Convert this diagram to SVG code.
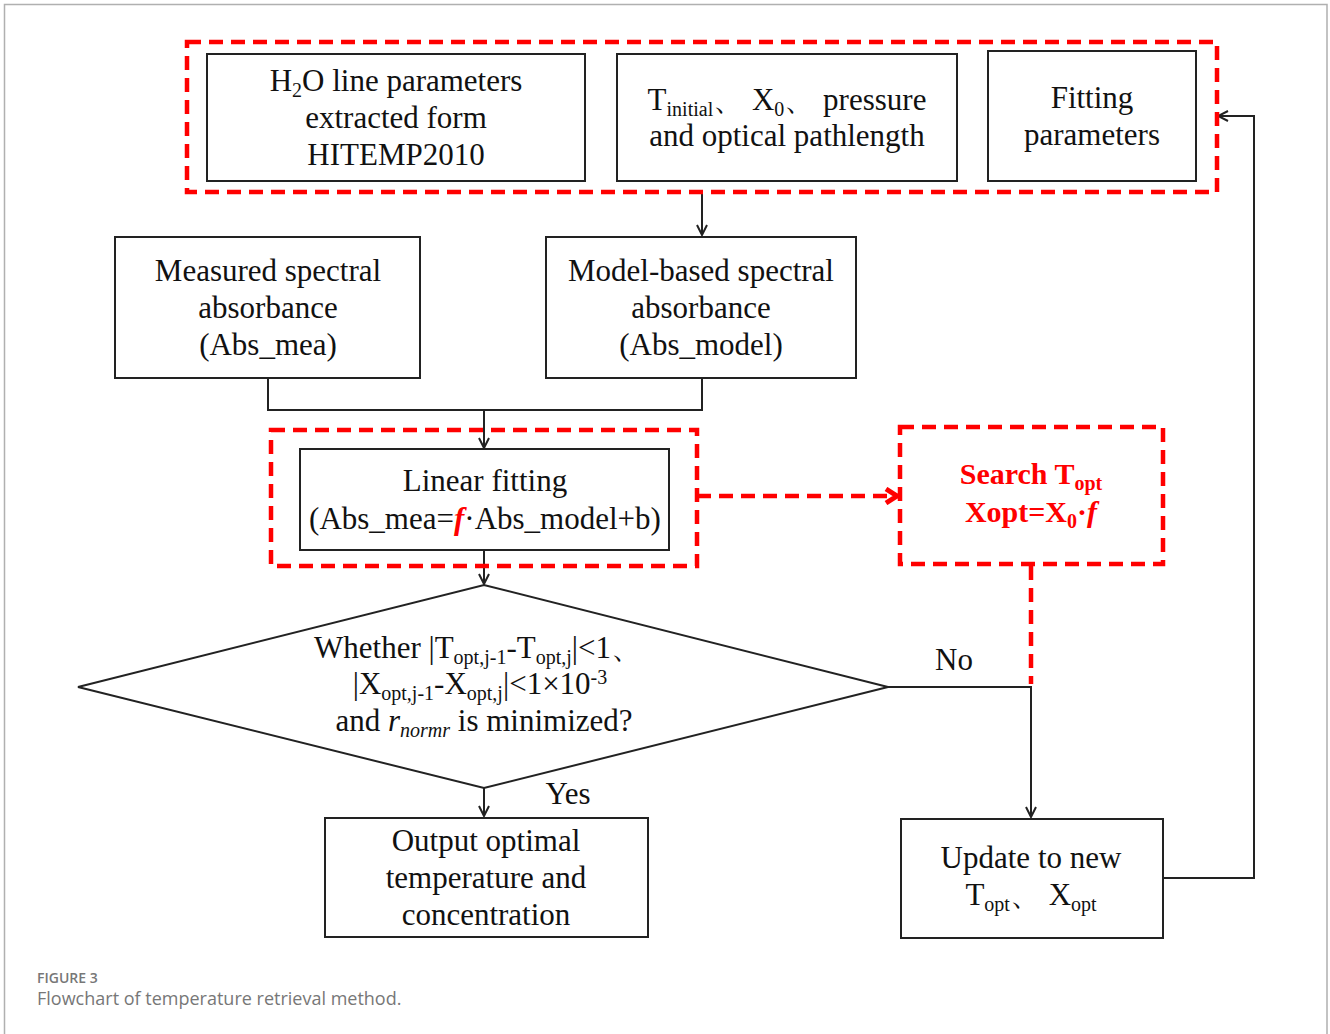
<svg xmlns="http://www.w3.org/2000/svg" width="1330" height="1034" viewBox="0 0 1330 1034">
<style>
.bg{fill:#fff}
.frame{fill:none;stroke:#b0b0b0;stroke-width:1.5}
.box{fill:#fff;stroke:#222;stroke-width:2}
.rd{fill:none;stroke:#ff0000;stroke-width:4.5;stroke-dasharray:14 8}
.ln{fill:none;stroke:#222;stroke-width:2}
.t{font-family:"Liberation Serif","Times New Roman",serif;font-size:31px;fill:#111;text-anchor:middle}
.rt{font-family:"Liberation Serif","Times New Roman",serif;font-size:30px;fill:#ff0000;font-weight:bold;text-anchor:middle}
.cap1{font-family:"Open Sans","Liberation Sans",sans-serif;font-size:14px;fill:#777;font-weight:600}
.cap2{font-family:"Open Sans","Liberation Sans",sans-serif;font-size:18px;fill:#777}
</style>
<defs>
<marker id="ah" viewBox="0 0 12 12" refX="11" refY="6" markerWidth="12" markerHeight="12" markerUnits="userSpaceOnUse" orient="auto">
<path d="M1,1 L11,6 L1,11" fill="none" stroke="#222" stroke-width="2"/>
</marker>
<marker id="rah" viewBox="0 0 16 18" refX="14" refY="9" markerWidth="16" markerHeight="18" markerUnits="userSpaceOnUse" orient="auto">
<path d="M2,2 L13,9 L2,16" fill="none" stroke="#ff0000" stroke-width="5"/>
</marker>
</defs>
<rect class="bg" x="0" y="0" width="1330" height="1034"/>
<path class="frame" d="M4.5,1034 V4.5 H1327 V1034"/>

<g id="connectors">
<line class="ln" x1="702" y1="192" x2="702" y2="235" marker-end="url(#ah)"/>
<polyline class="ln" points="268,378 268,410 702,410 702,378"/>
<line class="ln" x1="484" y1="410" x2="484" y2="448" marker-end="url(#ah)"/>
<line class="ln" x1="484" y1="550" x2="484" y2="584" marker-end="url(#ah)"/>
<line class="ln" x1="484" y1="788" x2="484" y2="816" marker-end="url(#ah)"/>
<polyline class="ln" points="888,687 1031,687 1031,817" marker-end="url(#ah)"/>
<polyline class="ln" points="1163,878 1254,878 1254,116 1218,116" marker-end="url(#ah)"/>
<line class="rd" x1="697" y1="496" x2="898" y2="496" marker-end="url(#rah)"/>
<line class="rd" x1="1031" y1="566" x2="1031" y2="684"/>
</g>

<g id="input-group">
<rect class="rd" x="187" y="42" width="1030" height="150"/>
</g>
<g id="node-h2o">
<rect class="box" x="207" y="54" width="378" height="127"/>
<text class="t" x="396" y="91">H<tspan font-size="20" dy="6">2</tspan><tspan dy="-6">O line parameters</tspan></text>
<text class="t" x="396" y="128">extracted form</text>
<text class="t" x="396" y="165">HITEMP2010</text>
</g>
<g id="node-initial">
<rect class="box" x="617" y="54" width="340" height="127"/>
<text class="t" x="787" y="110">T<tspan font-size="20" dy="6">initial</tspan><tspan dy="-6">、 X</tspan><tspan font-size="20" dy="6">0</tspan><tspan dy="-6">、 pressure</tspan></text>
<text class="t" x="787" y="146">and optical pathlength</text>
</g>
<g id="node-fitting">
<rect class="box" x="988" y="51" width="208" height="130"/>
<text class="t" x="1092" y="108">Fitting</text>
<text class="t" x="1092" y="145">parameters</text>
</g>
<g id="node-measured">
<rect class="box" x="115" y="237" width="305" height="141"/>
<text class="t" x="268" y="281">Measured spectral</text>
<text class="t" x="268" y="318">absorbance</text>
<text class="t" x="268" y="355">(Abs_mea)</text>
</g>
<g id="node-model">
<rect class="box" x="546" y="237" width="310" height="141"/>
<text class="t" x="701" y="281">Model-based spectral</text>
<text class="t" x="701" y="318">absorbance</text>
<text class="t" x="701" y="355">(Abs_model)</text>
</g>
<g id="node-linear">
<rect class="rd" x="271" y="430" width="426" height="136"/>
<rect class="box" x="300" y="449" width="369" height="101"/>
<text class="t" x="485" y="491">Linear fitting</text>
<text class="t" x="485" y="529">(Abs_mea=<tspan fill="#ff0000" font-weight="bold" font-style="italic">f</tspan>·Abs_model+b)</text>
</g>
<g id="node-search">
<rect class="rd" x="900" y="427" width="263" height="137"/>
<text class="rt" x="1031" y="484">Search T<tspan font-size="20" dy="6">opt</tspan></text>
<text class="rt" x="1031" y="522">Xopt=X<tspan font-size="20" dy="6">0</tspan><tspan dy="-6">·<tspan font-style="italic">f</tspan></tspan></text>
</g>
<g id="node-decision">
<polygon class="box" points="78,687 484,585 888,687 484,788"/>
<text class="t" x="478" y="658">Whether |T<tspan font-size="20" dy="6">opt,j-1</tspan><tspan dy="-6">-T</tspan><tspan font-size="20" dy="6">opt,j</tspan><tspan dy="-6">|&lt;1、</tspan></text>
<text class="t" x="480" y="694">|X<tspan font-size="20" dy="6">opt,j-1</tspan><tspan dy="-6">-X</tspan><tspan font-size="20" dy="6">opt,j</tspan><tspan dy="-6">|&lt;1×10</tspan><tspan font-size="20" dy="-10">-3</tspan></text>
<text class="t" x="484" y="731">and <tspan font-style="italic">r</tspan><tspan font-size="20" font-style="italic" dy="6">normr</tspan><tspan dy="-6"> is minimized?</tspan></text>
<text class="t" x="954" y="670">No</text>
<text class="t" x="568" y="804">Yes</text>
</g>
<g id="node-output">
<rect class="box" x="325" y="818" width="323" height="119"/>
<text class="t" x="486" y="851">Output optimal</text>
<text class="t" x="486" y="888">temperature and</text>
<text class="t" x="486" y="925">concentration</text>
</g>
<g id="node-update">
<rect class="box" x="901" y="819" width="262" height="119"/>
<text class="t" x="1031" y="868">Update to new</text>
<text class="t" x="1031" y="905">T<tspan font-size="20" dy="6">opt</tspan><tspan dy="-6">、 X</tspan><tspan font-size="20" dy="6">opt</tspan></text>
</g>
<text class="cap1" x="37" y="983">FIGURE 3</text>
<text class="cap2" x="37" y="1005">Flowchart of temperature retrieval method.</text>
</svg>
